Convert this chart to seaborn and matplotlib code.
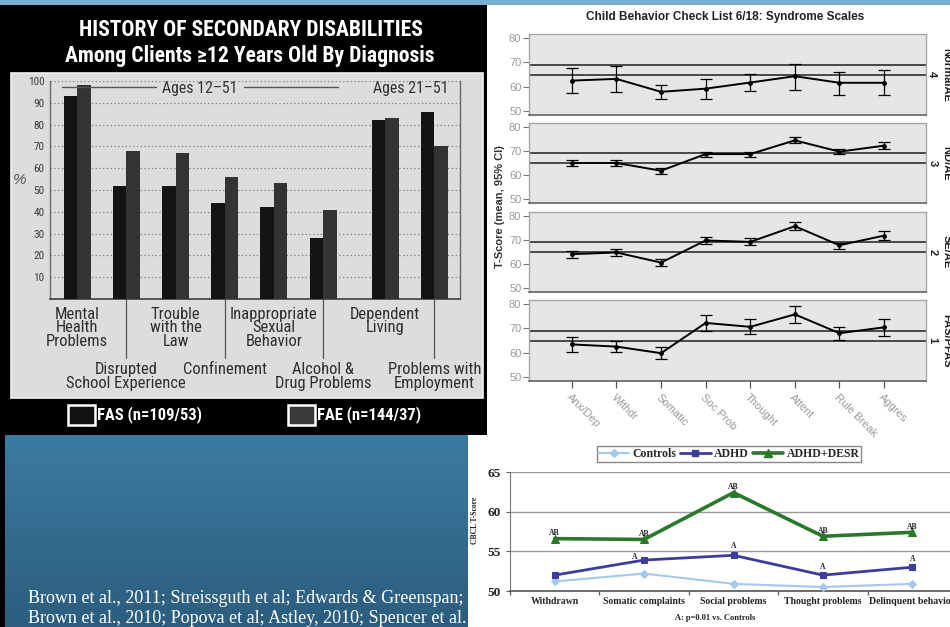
import numpy as np
import pandas as pd
import matplotlib
matplotlib.use("Agg")
import matplotlib.pyplot as plt
import matplotlib.transforms as mtrans
from matplotlib import font_manager as fm
from matplotlib.patches import Rectangle
from matplotlib.lines import Line2D
from matplotlib.colors import LinearSegmentedColormap
import seaborn as sns

# ---------------------------------------------------------------- data
# Secondary disabilities among clients >= 12 years old (percent)
disabilities = ["Mental\nHealth\nProblems", "Disrupted\nSchool Experience",
                "Trouble\nwith the\nLaw", "Confinement",
                "Inappropriate\nSexual\nBehavior", "Alcohol &\nDrug Problems",
                "Dependent\nLiving", "Problems with\nEmployment"]
age_block = ["12-51", "12-51", "12-51", "12-51", "12-51", "12-51", "21-51", "21-51"]
fas_pct = [93, 52, 52, 44, 42, 28, 82, 86]
fae_pct = [98, 68, 67, 56, 53, 41, 83, 70]
diagnoses = ["FAS", "FAE"]
diagnosis_labels = ["FAS (n=109/53)", "FAE (n=144/37)"]

# CBCL 6/18 syndrome scales: mean T-score with 95% CI by group
scales = ["Anx/Dep", "Withdr", "Somatic", "Soc Prob", "Thought", "Attent",
          "Rule Break", "Aggres"]
groups = ["NormalAE", "ND/AE", "SE/AE", "FAS/PFAS"]
group_codes = ["4", "3", "2", "1"]
normal_ae_mean = [62.5, 63.2, 57.9, 59.2, 61.7, 64.3, 61.6, 61.6]
normal_ae_lo = [57.6, 58.0, 54.8, 55.0, 58.1, 58.8, 56.8, 56.5]
normal_ae_hi = [67.6, 68.3, 60.6, 63.2, 65.3, 69.5, 66.2, 66.7]
nd_ae_mean = [65.0, 65.0, 61.8, 68.7, 68.7, 74.4, 69.7, 72.2]
nd_ae_lo = [63.8, 63.8, 60.6, 67.5, 67.4, 73.1, 68.6, 70.8]
nd_ae_hi = [66.1, 66.1, 62.9, 69.7, 69.7, 75.8, 70.8, 73.6]
se_ae_mean = [64.1, 64.8, 60.6, 69.8, 69.2, 75.7, 67.8, 71.8]
se_ae_lo = [62.7, 63.3, 59.0, 68.4, 67.7, 74.2, 66.3, 69.8]
se_ae_hi = [65.3, 66.3, 62.2, 71.4, 70.7, 77.5, 68.8, 73.6]
fas_pfas_mean = [63.4, 62.5, 59.8, 72.2, 70.6, 75.7, 68.0, 70.4]
fas_pfas_lo = [60.2, 60.2, 57.3, 68.9, 67.8, 72.3, 65.4, 66.7]
fas_pfas_hi = [66.5, 64.9, 62.5, 75.3, 73.8, 79.0, 70.5, 73.9]
clinical_cutoffs = [65, 69]

# CBCL T-scores: controls vs ADHD vs ADHD+DESR
domains = ["Withdrawn", "Somatic complaints", "Social problems",
           "Thought problems", "Delinquent behavior"]
controls = [51.2, 52.2, 50.9, 50.5, 50.9]
adhd = [52.0, 53.9, 54.5, 52.0, 53.0]
adhd_desr = [56.6, 56.5, 62.4, 56.9, 57.4]
adhd_flags = ["", "A", "A", "A", "A"]
adhd_desr_flags = ["AB", "AB", "AB", "AB", "AB"]

references = ("Brown et al., 2011; Streissguth et al; Edwards & Greenspan;\n"
              "Brown et al., 2010; Popova et al; Astley, 2010; Spencer et al.")

# ---------------------------------------------------------------- fonts
def narrow_font():
    fonts = fm.fontManager.ttflist
    names = {f.name for f in fonts}
    for n, k in (("Liberation Sans Narrow", 1.0), ("Arial Narrow", 1.0),
                 ("Roboto Condensed", 0.95), ("Open Sans Condensed", 0.95)):
        if n in names:
            return {"family": n}, k
    for f in fonts:
        if f.name == "DejaVu Sans" and str(f.stretch) in ("condensed", "semi-condensed"):
            return {"family": "DejaVu Sans", "stretch": "condensed"}, 0.8
    return {"family": "Liberation Sans"}, 0.84

NARROW, NK = narrow_font()
SERIF = ["Liberation Serif", "DejaVu Serif"]

sns.set_theme(style="white")
plt.rcParams["font.family"] = ["Liberation Sans", "DejaVu Sans"]

W, H = 950, 627
fig = plt.figure(figsize=(W / 100, H / 100), dpi=100)
fig.patch.set_facecolor("white")


def frac(x0, y0, x1, y1):
    return [x0 / W, 1 - y1 / H, (x1 - x0) / W, (y1 - y0) / H]


# ---------------------------------------------------------------- slide background
bg = fig.add_axes([0, 0, 1, 1], zorder=-10)
bg.axis("off")
bg.add_patch(Rectangle((0, 0), W, 5, color="#79aed3", lw=0))
bg.add_patch(Rectangle((0, 5), 487, 430, color="black", lw=0))
bg.add_patch(Rectangle((0, 430), 5, H - 430, color="black", lw=0))
grad = np.linspace(0, 1, 120)[:, None]
slide_cmap = LinearSegmentedColormap.from_list("slide", ["#3b7ba1", "#2c5d7e"])
bg.imshow(grad, extent=(5, 468, H, 435), cmap=slide_cmap, aspect="auto", zorder=1)
bg.add_patch(Rectangle((11, 73), 472, 325, fc="#dddddd", ec="#f2f2f2", lw=1.2, zorder=2))
bg.set_xlim(0, W)
bg.set_ylim(H, 0)

bg.text(28, 623, references, color="white", family=SERIF, fontsize=13,
        va="baseline", ha="left", linespacing=1.2, zorder=3)

# ---------------------------------------------------------------- left: bar chart
bg.text(251, 30, "HISTORY OF SECONDARY DISABILITIES", color="white",
        fontsize=16.4 * NK, weight="bold", ha="center", va="center", **NARROW)
bg.text(250, 56, "Among Clients \u226512 Years Old By Diagnosis", color="white",
        fontsize=16.4 * NK, weight="bold", ha="center", va="center", **NARROW)

ax1 = fig.add_axes(frac(50, 81, 460, 299))
ax1.set_facecolor("none")
gap = 0.26  # extra spacing before the 21-51 age block
group_pos = [i + (gap if blk == "21-51" else 0) for i, blk in enumerate(age_block)]
bars = pd.DataFrame({
    "pos": group_pos * 2,
    "pct": fas_pct + fae_pct,
    "dx": ["FAS"] * len(fas_pct) + ["FAE"] * len(fae_pct),
})
sns.barplot(data=bars, x="pos", y="pct", hue="dx", hue_order=diagnoses,
            native_scale=True, width=0.55, dodge=True, errorbar=None,
            palette={"FAS": "#141414", "FAE": "#333333"}, saturation=1,
            linewidth=0, legend=False, ax=ax1, zorder=3)
ax1.set_xlim(-0.55, 7.78)
ax1.set_ylim(0, 100)
ax1.set_yticks(range(10, 101, 10))
ax1.set_xticks([])
ax1.set_xlabel("")
ax1.set_ylabel("")
ax1.yaxis.grid(True, linestyle=(0, (1.2, 1.8)), color="#8c8c8c", lw=0.9)
ax1.set_axisbelow(True)
ax1.tick_params(axis="y", length=0, pad=4, labelsize=8.5 * NK, labelcolor="#3c3c3c")
for lab in ax1.get_yticklabels():
    lab.set(**NARROW)
for s in ("left", "right"):
    ax1.spines[s].set(color="#6a6a6a", lw=1.0, visible=True)
ax1.spines["bottom"].set(color="#4a4a4a", lw=1.3, visible=True)
ax1.spines["top"].set_visible(False)

fig.text(20 / W, 1 - 180 / H, "%", color="#555555", fontsize=11, ha="center",
         va="center", style="italic")

# age block headers
ax1.plot([-0.3, 1.6], [97.3, 97.3], color="#555555", lw=1.0, zorder=4)
ax1.plot([3.4, 5.3], [97.3, 97.3], color="#555555", lw=1.0, zorder=4)
young = [p for p, b in zip(group_pos, age_block) if b == "12-51"]
old = [p for p, b in zip(group_pos, age_block) if b == "21-51"]
ax1.text(np.mean(young), 96.5, "Ages 12\u201351", ha="center", va="center",
         fontsize=12 * NK, color="#333333", zorder=5, **NARROW)
ax1.text(np.mean(old) + 0.02, 96.5, "Ages 21\u201351", ha="center", va="center",
         fontsize=12 * NK, color="#333333", zorder=5, **NARROW)

# staggered category labels under the axis
tr = mtrans.blended_transform_factory(ax1.transData, ax1.transAxes)
for i, (p, name) in enumerate(zip(group_pos, disabilities)):
    if i % 2 == 0:
        ax1.text(p, -0.035, name, transform=tr, ha="center", va="top",
                 fontsize=12.5 * NK, color="#2e2e2e", linespacing=0.88,
                 clip_on=False, **NARROW)
    else:
        ax1.plot([p, p], [0, -0.27], transform=tr, color="#555555", lw=0.9,
                 clip_on=False)
        ax1.text(p, -0.29, name, transform=tr, ha="center", va="top",
                 fontsize=12.5 * NK, color="#2e2e2e", linespacing=0.88,
                 clip_on=False, **NARROW)

# diagnosis key
for (x0, fc), label in zip([(68, "#111111"), (288, "#3a3a3a")], diagnosis_labels):
    bg.add_patch(Rectangle((x0, 405), 27, 20, fc=fc, ec="white", lw=1.8, zorder=3))
    bg.text(x0 + 29, 415, label, color="white", fontsize=12.5 * NK,
            weight="bold", ha="left", va="center", zorder=3, **NARROW)

# ---------------------------------------------------------------- top right: CBCL syndrome panels
fig.text(725 / W, 1 - 17 / H, "Child Behavior Check List 6/18: Syndrome Scales",
         ha="center", va="center", fontsize=8.5, weight="bold", color="#222222")
fig.text(500 / W, 1 - 207 / H, "T-Score (mean, 95% CI)", rotation=90,
         ha="center", va="center", fontsize=8, weight="bold", color="#333333")

panel_rows = [(34, 115), (123, 203), (212, 292), (300, 381)]
panel_data = [
    (normal_ae_mean, normal_ae_lo, normal_ae_hi),
    (nd_ae_mean, nd_ae_lo, nd_ae_hi),
    (se_ae_mean, se_ae_lo, se_ae_hi),
    (fas_pfas_mean, fas_pfas_lo, fas_pfas_hi),
]
for k, ((y0, y1), (mean, lo, hi), name, code) in enumerate(
        zip(panel_rows, panel_data, groups, group_codes)):
    ax = fig.add_axes(frac(529, y0, 926, y1))
    ax.set_facecolor("#e6e6e6")
    for c in clinical_cutoffs:
        ax.axhline(c, color="#3c3c3c", lw=1.3, zorder=2)
    sns.lineplot(x=scales, y=mean, sort=False, color="black", lw=1.4,
                 marker="o", markersize=3.5, markeredgewidth=0, ax=ax, zorder=4)
    yerr = [np.subtract(mean, lo), np.subtract(hi, mean)]
    ax.errorbar(scales, mean, yerr=yerr, fmt="none", ecolor="black",
                elinewidth=0.9, capsize=4.2, capthick=0.9, zorder=3)
    ax.set_xlim(-0.96, 7.94)
    ax.set_ylim(48.4, 81.6)
    ax.set_yticks([50, 60, 70, 80])
    ax.tick_params(axis="y", left=True, length=4, width=0.8, color="#777777",
                   pad=1.5, labelsize=8, labelcolor="#9a9a9a")
    for s in ("left", "right", "top"):
        ax.spines[s].set(color="#a8a8a8", lw=1.0)
    ax.spines["bottom"].set(color="#555555", lw=1.1)
    ax.text(1.016, 0.5, code, transform=ax.transAxes, rotation=-90,
            ha="center", va="center", fontsize=8, weight="bold", color="#222222")
    ax.text(1.052, 0.5, name, transform=ax.transAxes, rotation=-90,
            ha="center", va="center", fontsize=8, weight="bold", color="#222222")
    if k < len(panel_rows) - 1:
        ax.tick_params(axis="x", bottom=False, labelbottom=False)
    else:
        ax.tick_params(axis="x", bottom=True, length=5, width=0.9,
                       color="#555555", pad=3, labelsize=8, labelcolor="#9a9a9a")
        for lab in ax.get_xticklabels():
            lab.set(rotation=-45, ha="left", va="top", rotation_mode="anchor")
    ax.set_xlabel("")
    ax.set_ylabel("")

# ---------------------------------------------------------------- bottom right: CBCL by ADHD group
ax3 = fig.add_axes(frac(510, 472, 957, 591))
ax3.set_facecolor("none")
series = [
    ("Controls", controls, "#a6c8ee", "D", 4.0, 1.5),
    ("ADHD", adhd, "#3c3c9c", "s", 5.0, 2.0),
    ("ADHD+DESR", adhd_desr, "#2a782c", "^", 6.0, 2.6),
]
handles = []
for label, vals, col, mk, ms, lw in series:
    sns.lineplot(x=domains, y=vals, sort=False, color=col, lw=lw, marker=mk,
                 markersize=ms, markeredgecolor=col, ax=ax3, zorder=3)
    handles.append(Line2D([], [], color=col, lw=lw, marker=mk, markersize=ms,
                          markeredgecolor=col))
ax3.set_xlim(-0.5, len(domains) - 0.5)
ax3.set_ylim(50, 65)
ax3.set_yticks([50, 55, 60, 65])
ax3.yaxis.grid(True, color="#9a9a9a", lw=1.0)
ax3.set_axisbelow(True)
ax3.tick_params(axis="y", left=True, length=3, width=0.8, color="#666666",
                pad=4, labelsize=9.5)
ax3.tick_params(axis="x", which="major", bottom=False, length=0, pad=4, labelsize=7)
for lab in ax3.get_yticklabels() + ax3.get_xticklabels():
    lab.set(family=SERIF, weight="bold", color="#222222")
ax3.set_xticks(np.arange(-0.5, len(domains), 1.0), minor=True)
ax3.tick_params(axis="x", which="minor", bottom=True, length=3, color="#666666")
ax3.spines["left"].set(color="#777777", lw=0.8)
ax3.spines["bottom"].set(color="#555555", lw=1.2)
ax3.spines["top"].set_visible(False)
ax3.spines["right"].set_visible(False)
ax3.set_xlabel("")
ax3.set_ylabel("")

desr_offsets = [(0, 4)] * len(domains)
adhd_offsets = [(0, 6), (-7, 2.5), (0, 6.5), (0, 6), (0, 6)]
for i, (flag, v) in enumerate(zip(adhd_desr_flags, adhd_desr)):
    ax3.annotate(flag, (i, v), xytext=desr_offsets[i], textcoords="offset points",
                 ha="center", va="center", fontsize=5.5, weight="bold",
                 family=SERIF, color="#222222")
for i, (flag, v) in enumerate(zip(adhd_flags, adhd)):
    if flag:
        ax3.annotate(flag, (i, v), xytext=adhd_offsets[i], textcoords="offset points",
                     ha="center", va="center", fontsize=5.5, weight="bold",
                     family=SERIF, color="#222222")

fig.legend(handles, [s[0] for s in series], loc="center",
           bbox_to_anchor=(729 / W, 1 - 454 / H), ncol=3, frameon=True,
           fancybox=False, edgecolor="#888888", framealpha=1,
           prop={"family": SERIF, "weight": "bold", "size": 8.5},
           handlelength=2.6, handletextpad=0.3, columnspacing=0.3,
           borderpad=0.15, borderaxespad=0)
fig.text(475 / W, 1 - 520 / H, "CBCL T-Score", rotation=90, ha="center",
         va="center", fontsize=5.5, weight="bold", family=SERIF, color="#222222")
fig.text(715 / W, 1 - 618 / H, "A: p=0.01 vs. Controls", ha="center",
         va="center", fontsize=6, weight="bold", family=SERIF, color="#222222")

fig.savefig("out.png", dpi=100, facecolor=fig.get_facecolor())
